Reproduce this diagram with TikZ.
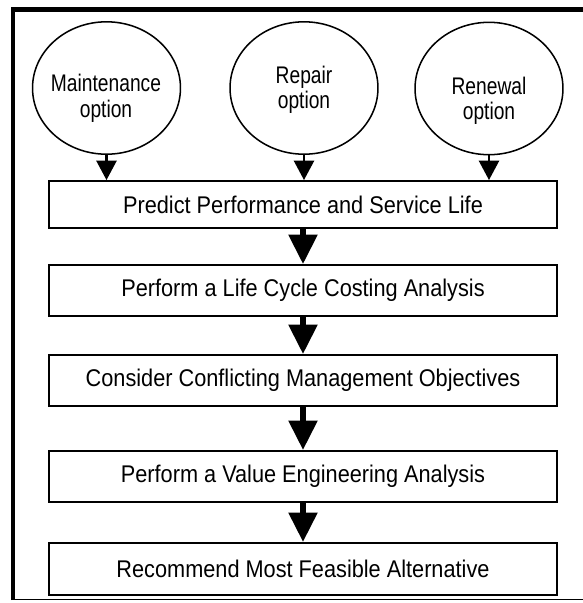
\documentclass[tikz,border=0pt]{standalone}
\usepackage{fontspec}
\setmainfont{Liberation Sans}[FakeStretch=0.9]
\newfontfamily\optfont{Liberation Sans}[FakeStretch=0.8]
\usetikzlibrary{positioning}
\usetikzlibrary{shapes.geometric}
\usetikzlibrary{arrows.meta}

\begin{document}
\begin{tikzpicture}[x=0.03cm,y=-0.03cm,
    option node/.style={ellipse,draw,line width=1.3pt,minimum width=126.3pt,minimum height=113pt,inner sep=0pt},
    option text/.style={align=center,font=\optfont\fontsize{20.5}{21.8}\selectfont},
    task node/.style={rectangle,draw,line width=1.7pt,minimum width=433.6pt,minimum height=43.5pt,font=\fontsize{20.6}{24}\selectfont},
    small arrow/.style={line width=2.1pt,-{Triangle[width=17pt,length=16.5pt]}},
    big arrow/.style={line width=4.3pt,-{Triangle[width=24pt,length=25pt]}}]

  \useasboundingbox (0,0) rectangle (583,603);

  % outer frame
  \draw[line width=3.6pt] (13,600) -- (13,9.5) -- (583,9.5);
  \draw[line width=1.2pt] (11,599.5) -- (583,599.5);

  % the three options
  \node[option node] (main) at (106.5,88) {};
  \node[option node] (rep) at (304,88) {};
  \node[option node] (ren) at (489,88.5) {};
  \node[option text] (maintxt) at (106,98.5) {Maintenance\\option};
  \node[option text] (reptxt) at (304,90) {Repair\\option};
  \node[option text] (rentxt) at (489,101) {Renewal\\option};

  % steps
  \node[task node,minimum height=40pt] (b1) at (303,204.5) {Predict Performance and Service Life};
  \node[task node] (b2) [below=29.9pt of b1] {Perform a Life Cycle Costing Analysis};
  \node[task node] (b3) [below=31.6pt of b2] {Consider Conflicting Management Objectives};
  \node[task node] (b4) [below=36.7pt of b3] {Perform a Value Engineering Analysis};
  \node[task node,minimum height=44.4pt] (b5) [below=33.3pt of b4] {Recommend Most Feasible Alternative};

  \path (main) edge[small arrow] (main |- b1.north)
        (rep) edge[small arrow] (rep |- b1.north)
        (ren) edge[small arrow] (ren |- b1.north);

  \path (b1) edge[big arrow] (b2)
        (b2) edge[big arrow] (b3)
        (b3) edge[big arrow] (b4)
        (b4) edge[big arrow] (b5);
\end{tikzpicture}
\end{document}
